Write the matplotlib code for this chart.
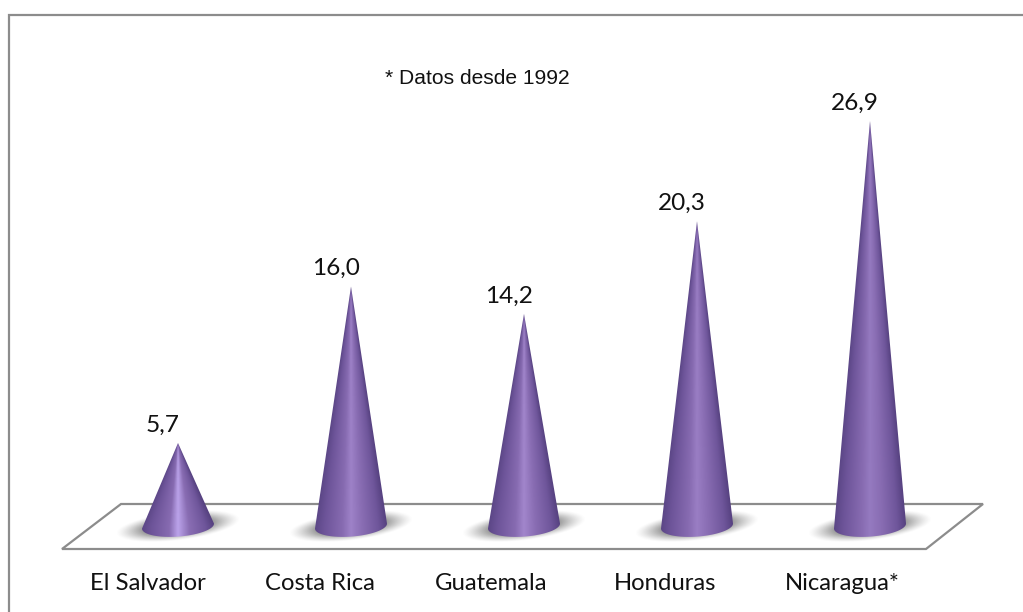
#!/usr/bin/env python

import matplotlib
matplotlib.use("Agg")
import matplotlib.pyplot as plt
import numpy as np
from matplotlib.colors import LinearSegmentedColormap, to_rgb
from matplotlib.patches import Polygon

# Chart values
countries = ["El Salvador", "Costa Rica", "Guatemala", "Honduras", "Nicaragua*"]
values = [5.7, 16.0, 14.2, 20.3, 26.9]
value_labels = ["5,7", "16,0", "14,2", "20,3", "26,9"]
note = "* Datos desde 1992"

W, H = 1023, 612
GREY = "#8c8c8c"

# Pixel position of the first cone, cone spacing and value scale
X0, DX = 178, 173
Y0, SCALE = 529.6, 15.19

# Cone base, in px
HALF_W = 36
HALF_H = 10.5
BASE_PX = 3.5   # ellipse centre above the value zero line
TILT_PX = 2.5

# Highlight down the middle of each cone, taller cones are a bit darker
centre_colors = ["#bba3ea", "#9e82c8", "#a286cc", "#9a7ec4", "#957ac0"]
label_px = [148, 320, 491, 665, 842]

fig = plt.figure(figsize=(W / 100, H / 100), dpi=100, facecolor="white")

# Backdrop in px coords: frame, floor, category labels
bg = fig.add_axes([0, 0, 1, 1])
bg.set_xlim(0, W)
bg.set_ylim(H, 0)
bg.axis("off")
bg.plot([9, 9, W], [H, 15, 15], color=GREY, lw=1.6, solid_joinstyle="miter")
bg.add_patch(Polygon([(121, 504), (983, 504), (926, 549), (62, 549)],
                     closed=True, fill=False, edgecolor=GREY, lw=1.6))
bg.text(477, 79, note, family="Liberation Sans", fontsize=15.1, color="#111111",
        ha="center", va="center")
for px, name in zip(label_px, countries):
    bg.text(px, 590, name, family="Lato", fontsize=17.2, color="#111111",
            ha="center", va="baseline")

# Cones live on a value axis
ax = fig.add_axes([0, 0, 1, 1])
ax.patch.set_alpha(0)
ax.axis("off")
ax.set_xlim(-X0 / DX, (W - X0) / DX)
ax.set_ylim(-(H - Y0) / SCALE, Y0 / SCALE)

hw = HALF_W / DX
hh = HALF_H / SCALE
base = BASE_PX / SCALE
tilt = TILT_PX / SCALE

for i, (v, lab) in enumerate(zip(values, value_labels)):
    # soft shadow under the cone, leaning up to the right
    sx = np.linspace(i - 0.42, i + 0.42, 150)
    sy = np.linspace(-1.8, 2.6, 80)
    gx, gy = np.meshgrid(sx, sy)
    du = (gx - i) / (62 / DX)
    dv = (gy - base - 1.3 * (gx - i)) / (14.5 / SCALE)
    d = np.sqrt(du ** 2 + dv ** 2)
    rgba = np.zeros(d.shape + (4,))
    rgba[..., :3] = 0.4
    rgba[..., 3] = 0.9 * np.clip((1.0 - d) / 0.55, 0, 1) ** 1.3
    ax.imshow(rgba, extent=(sx[0], sx[-1], sy[0], sy[-1]), origin="lower",
              aspect="auto", interpolation="bilinear", zorder=2)

    # side profile of the cone with the rounded front of the base
    t = np.linspace(0, np.pi, 60)
    arc_x = i + hw * np.cos(t)
    arc_y = base - hh * np.sin(t) + tilt * np.cos(t)
    outline = np.column_stack([np.r_[i, arc_x], np.r_[v, arc_y]])
    cone = Polygon(outline, closed=True, facecolor="none", edgecolor="none", zorder=3)
    ax.add_patch(cone)

    # shading goes around the surface, so it narrows towards the tip
    cmap = LinearSegmentedColormap.from_list("cone", [
        (0.0, "#5b4686"), (0.13, "#6d5499"), (0.38, "#876bb1"),
        (0.5, to_rgb(centre_colors[i])), (0.66, "#896db3"),
        (0.88, "#6f569b"), (1.0, "#574281"),
    ])
    ix = np.linspace(i - hw - 0.01, i + hw + 0.01, 160)
    iy = np.linspace(base - hh - tilt - 0.1, v + 0.05, 500)
    mx, my = np.meshgrid(ix, iy)
    half = hw * np.clip((v - my) / (v - base), 0.004, 1)
    shade = np.clip((mx - i) / half, -1, 1) * 0.5 + 0.5
    im = ax.imshow(cmap(shade), extent=(ix[0], ix[-1], iy[0], iy[-1]), origin="lower",
                   aspect="auto", interpolation="bilinear", zorder=3)
    im.set_clip_path(cone)

    # value labels sit up and to the left of the tip
    ax.annotate(lab, (i, v), xytext=(-10.8, 13.0), textcoords="offset points",
                family="Lato", fontsize=17.6, color="#111111", ha="center", va="center",
                zorder=4)

# imshow resets the limits
ax.set_xlim(-X0 / DX, (W - X0) / DX)
ax.set_ylim(-(H - Y0) / SCALE, Y0 / SCALE)

fig.savefig("out.png", dpi=100)
